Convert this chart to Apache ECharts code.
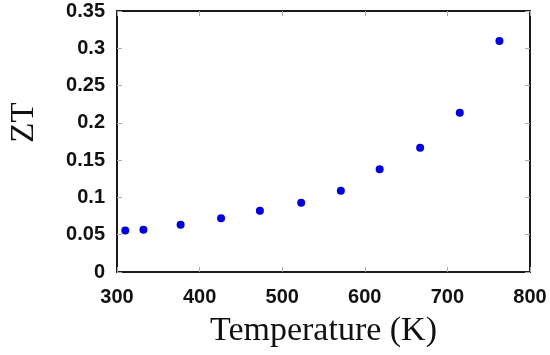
<!DOCTYPE html>
<html>
<head>
<meta charset="utf-8">
<script src="https://cdn.jsdelivr.net/npm/echarts@6/dist/echarts.min.js"></script>
<style>
  html, body { margin: 0; padding: 0; background: #fff; }
  #chart { width: 550px; height: 355px; }
</style>
</head>
<body>
<div id="chart"></div>
<script>
// Data
const temperatureK = [310, 332, 377, 426, 473, 523, 571, 618, 667, 715, 763];
const zt = [0.0555, 0.0567, 0.0634, 0.072, 0.0822, 0.093, 0.109, 0.1377, 0.1667, 0.2136, 0.3098];
const xTicks = [300, 400, 500, 600, 700, 800];
const yTicks = [0, 0.05, 0.1, 0.15, 0.2, 0.25, 0.3, 0.35];

const points = temperatureK.map((t, i) => [t, zt[i]]);

const chart = echarts.init(document.getElementById('chart'), null, { renderer: 'canvas' });

const tickStyle = { show: true, inside: true, length: 5, lineStyle: { color: '#aaaaaa', width: 1 } };
const axisLineStyle = { show: true, onZero: false, lineStyle: { color: '#1a1a1a', width: 2 } };
const labelFont = { fontFamily: 'Liberation Sans, Arial, sans-serif', fontWeight: 'bold', fontSize: 20, color: '#111111' };

chart.setOption({
  animation: false,
  backgroundColor: '#ffffff',
  grid: { left: 110, right: 20, top: 11, bottom: 83, containLabel: false },
  xAxis: [
    {
      type: 'value', position: 'bottom',
      min: xTicks[0], max: xTicks[xTicks.length - 1], interval: 100,
      name: 'Temperature (K)', nameLocation: 'middle', nameGap: 42,
      nameTextStyle: { fontFamily: 'Liberation Serif, Times New Roman, serif', fontSize: 34, color: '#111111' },
      axisLine: axisLineStyle,
      axisTick: tickStyle,
      axisLabel: Object.assign({ margin: 15 }, labelFont),
      splitLine: { show: false }
    },
    {
      type: 'value', position: 'top',
      min: xTicks[0], max: xTicks[xTicks.length - 1], interval: 100,
      axisLine: axisLineStyle,
      axisTick: tickStyle,
      axisLabel: { show: false },
      splitLine: { show: false }
    }
  ],
  yAxis: [
    {
      type: 'value', position: 'left',
      min: yTicks[0], max: yTicks[yTicks.length - 1], interval: 0.05,
      name: 'ZT', nameLocation: 'middle', nameGap: 76, nameRotate: 90,
      nameTextStyle: { fontFamily: 'Liberation Serif, Times New Roman, serif', fontSize: 33, color: '#111111', padding: [0, 0, 0, 38] },
      axisLine: axisLineStyle,
      axisTick: tickStyle,
      axisLabel: Object.assign({ margin: 12, formatter: v => String(+v.toFixed(2)) }, labelFont),
      splitLine: { show: false }
    },
    {
      type: 'value', position: 'right',
      min: yTicks[0], max: yTicks[yTicks.length - 1], interval: 0.05,
      axisLine: axisLineStyle,
      axisTick: tickStyle,
      axisLabel: { show: false },
      splitLine: { show: false }
    }
  ],
  series: [
    {
      type: 'scatter',
      xAxisIndex: 0, yAxisIndex: 0,
      data: points,
      symbol: 'circle',
      symbolSize: 8,
      itemStyle: { color: '#0000dd', opacity: 1 }
    }
  ]
});
</script>
</body>
</html>
